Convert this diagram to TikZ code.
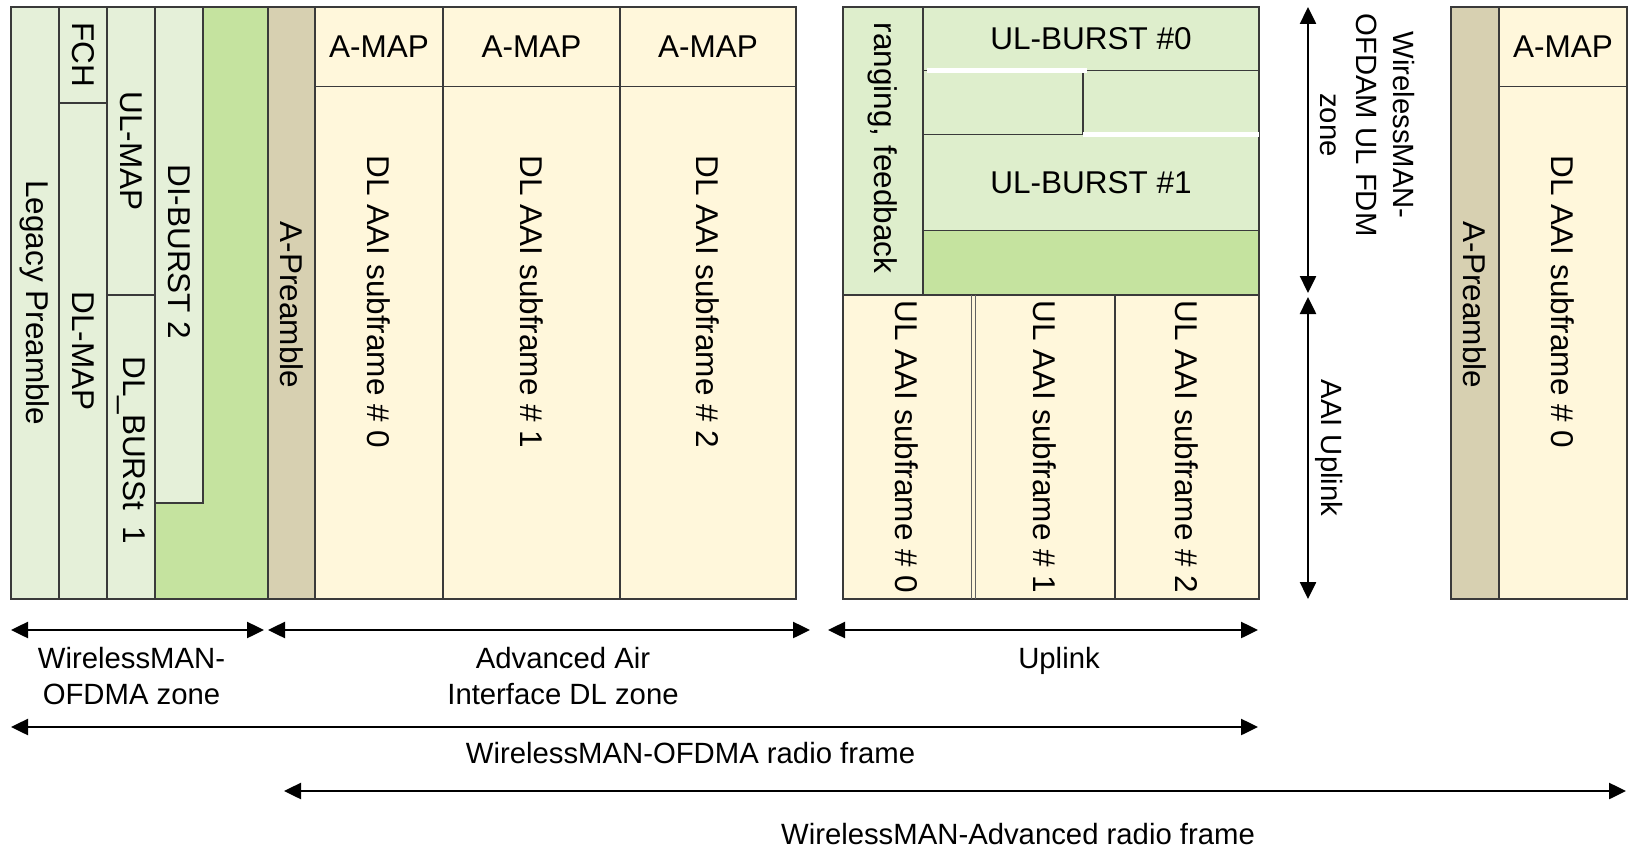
\documentclass[tikz,border=0pt]{standalone}
\usepackage{fontspec}
\setmainfont{Liberation Sans}
\usetikzlibrary{arrows.meta}
\definecolor{lgreen}{HTML}{E5F0D9}
\definecolor{ugreen}{HTML}{DEEECC}
\definecolor{dgreen}{HTML}{C5E39F}
\definecolor{cream}{HTML}{FFF7DB}
\definecolor{tanfill}{HTML}{D7D0B1}
\definecolor{edge}{HTML}{3A3A3A}

\begin{document}
\begin{tikzpicture}[x=1pt,y=-1pt,
  cell/.style={draw=edge, line width=1.5pt},
  boxtxt/.style={font=\fontsize{31.5}{36.5}\selectfont, inner sep=0pt, align=center},
  vtxt/.style={boxtxt, rotate=-90},
  lbl/.style={font=\fontsize{29.3}{36.5}\selectfont, inner sep=0pt, align=center},
  vlbl/.style={lbl, rotate=-90},
  span/.style={line width=2.5pt, {Triangle[length=17pt,width=16pt]}-{Triangle[length=17pt,width=16pt]}},
  ]
\useasboundingbox (0,0) rectangle (1633,848);

% ---- legacy WirelessMAN-OFDMA zone ----
\draw[cell, fill=lgreen] (11,7) rectangle (59,599);
\draw[cell, fill=lgreen] (59,7) rectangle (107,103);
\draw[cell, fill=lgreen] (59,103) rectangle (107,599);
\draw[cell, fill=lgreen] (107,7) rectangle (155,295);
\draw[cell, fill=lgreen] (107,295) rectangle (155,599);
\draw[cell, fill=dgreen] (155,7) rectangle (268,599);
\draw[cell, fill=lgreen] (155,7) rectangle (203,503);

\node[vtxt] (legacy) at (35,303) {Legacy Preamble};
\node[vtxt] (fch)    at (83,55)  {FCH};
\node[vtxt] (dlmap)  at (83,351) {DL-MAP};
\node[vtxt] (ulmap)  at (131,151) {UL-MAP};
\node[vtxt] (dlb1)   at (131,450) {DL\_BURSt\enspace 1};
\node[vtxt] (dib2)   at (179,252) {DI-BURST 2};

% ---- advanced air interface DL zone ----
\draw[cell, fill=tanfill] (268,7) rectangle (315,599);
\node[vtxt] (apre) at (291.5,305) {A-Preamble};
\foreach \xa/\xb/\n in {315/443/0, 443/620/1, 620/796/2}{
  \draw[cell, fill=cream] (\xa,7) rectangle (\xb,86.4);
  \draw[cell, fill=cream] (\xa,86.4) rectangle (\xb,599);
  \node[boxtxt] (amap\n) at ({(\xa+\xb)/2},47) {A-MAP};
  \node[vtxt] (dlsf\n) at ({(\xa+\xb)/2},302) {DL AAI subframe \# \n};
}

% ---- uplink ----
\draw[cell, fill=ugreen] (843,7) rectangle (923,295);
\draw[cell, fill=ugreen] (923,7) rectangle (1259,70.7);
\draw[cell, fill=ugreen] (923,70.7) rectangle (1083,134.7);
\draw[cell, fill=ugreen] (1083,70.7) rectangle (1259,134.7);
\draw[cell, fill=ugreen] (923,134.7) rectangle (1259,230.7);
\draw[cell, fill=dgreen] (923,230.7) rectangle (1259,295);
\draw[white, line width=5pt] (927,70.7) -- (1087,70.7);
\draw[white, line width=5pt] (1083,134.7) -- (1259,134.7);
\node[vtxt] (rng) at (883,148) {ranging, feedback};
\node[boxtxt] (ulb0) at (1091,39) {UL-BURST \#0};
\node[boxtxt] (ulb1) at (1091,183) {UL-BURST \#1};

\draw[cell, fill=cream] (843,295) rectangle (1259,599);
\draw[draw=edge!80, line width=1pt] (971,295) -- (971,599);
\draw[draw=edge!80, line width=1pt] (975,295) -- (975,599);
\draw[cell] (1115,295) -- (1115,599);
\node[vtxt] (ulsf0) at (907,447)  {UL AAI subframe \# 0};
\node[vtxt] (ulsf1) at (1045,447) {UL AAI subframe \# 1};
\node[vtxt] (ulsf2) at (1187,447) {UL AAI subframe \# 2};

% ---- FDM zone markers ----
\coordinate (fdmtop) at (1308,7);
\coordinate (fdmbot) at (1308,293);
\coordinate (aaitop) at (1308,297);
\coordinate (aaibot) at (1308,599);
\draw[span] (fdmtop) -- (fdmbot);
\draw[span] (aaitop) -- (aaibot);
\node[vlbl] (fdmlbl) at (1367,125) {WirelessMAN-\\OFDAM UL FDM\\zone};
\node[vlbl] (aailbl) at (1329,448) {AAI Uplink};

% ---- next frame ----
\draw[cell, fill=tanfill] (1451,7) rectangle (1499,599);
\draw[cell, fill=cream] (1499,7) rectangle (1627,86.4);
\draw[cell, fill=cream] (1499,86.4) rectangle (1627,599);
\node[vtxt] (apre2) at (1475,305) {A-Preamble};
\node[boxtxt] (amap3) at (1563,47) {A-MAP};
\node[vtxt] (dlsf3) at (1563,302) {DL AAI subframe \# 0};

% ---- zone and frame spans ----
\coordinate (z1a) at (11,630);   \coordinate (z1b) at (264,630);
\coordinate (z2a) at (268,630);  \coordinate (z2b) at (810,630);
\coordinate (z3a) at (828,630);  \coordinate (z3b) at (1258,630);
\coordinate (f1a) at (11,727);   \coordinate (f1b) at (1258,727);
\coordinate (f2a) at (284,791);  \coordinate (f2b) at (1626,791);
\draw[span] (z1a) -- (z1b);
\draw[span] (z2a) -- (z2b);
\draw[span] (z3a) -- (z3b);
\draw[span] (f1a) -- (f1b);
\draw[span] (f2a) -- (f2b);

\node[lbl] (lz1) at (131.5,676) {WirelessMAN-\\OFDMA zone};
\node[lbl] (lz2) at (563,676) {Advanced Air\\Interface DL zone};
\node[lbl] (lz3) at (1059,661) {Uplink};
\node[lbl] (lf1) at (690.5,753) {WirelessMAN-OFDMA radio frame};
\node[lbl] (lf2) at (1018,834) {WirelessMAN-Advanced radio frame};
\end{tikzpicture}
\end{document}
